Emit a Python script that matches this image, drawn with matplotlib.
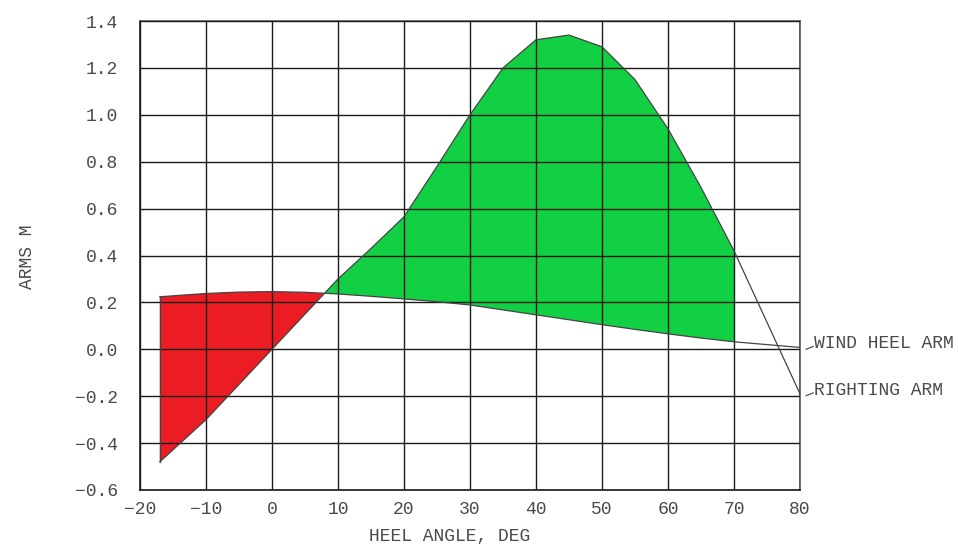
import numpy as np
import matplotlib
matplotlib.use("Agg")
import matplotlib.pyplot as plt

# Stability curves: heel angle (deg) vs arm (m)
heel = [-17, -10, -5, 0, 5, 10, 15, 20, 25, 30, 35, 40, 45, 50, 55, 60, 65, 70, 80]
righting_arm = [-0.48, -0.30, -0.15, 0.0, 0.15, 0.30, 0.43, 0.565, 0.78, 1.0, 1.20,
                1.32, 1.34, 1.29, 1.15, 0.94, 0.69, 0.42, -0.19]
wind_heel_arm = [0.224, 0.238, 0.244, 0.246, 0.243, 0.236, 0.226, 0.215, 0.203, 0.189,
                 0.168, 0.147, 0.126, 0.105, 0.085, 0.066, 0.048, 0.032, 0.008]
x_ticks = [-20, -10, 0, 10, 20, 30, 40, 50, 60, 70, 80]
y_ticks = [-0.6, -0.4, -0.2, 0.0, 0.2, 0.4, 0.6, 0.8, 1.0, 1.2, 1.4]
area_limit = 70
curve_labels = ["WIND HEEL ARM", "RIGHTING ARM"]

plt.rcParams["font.family"] = ["Liberation Mono", "DejaVu Sans Mono"]
text_col = "#4a4a4a"

fig = plt.figure(figsize=(9.58, 5.46), dpi=100)
ax = fig.add_axes([140 / 958, 56 / 546, 660 / 958, 469 / 546])

x = np.array(heel, dtype=float)
ra = np.array(righting_arm)
wha = np.array(wind_heel_arm)

# dense sampling so the filled regions follow the piecewise-linear curves
xf = np.linspace(x[0], area_limit, 2000)
raf = np.interp(xf, x, ra)
whaf = np.interp(xf, x, wha)

ax.fill_between(xf, raf, whaf, where=raf <= whaf, interpolate=True,
                facecolor="#ec1c24", edgecolor="none", zorder=1)
ax.fill_between(xf, raf, whaf, where=raf >= whaf, interpolate=True,
                facecolor="#12d044", edgecolor="none", zorder=1)

# grid
ax.set_xlim(-20, 80)
ax.set_ylim(-0.6, 1.4)
ax.set_xticks(x_ticks)
ax.set_yticks(y_ticks)
ax.grid(True, color="#1a1a1a", linewidth=1.0, zorder=2)
ax.set_axisbelow(False)
for s in ax.spines.values():
    s.set_color("#555555")
    s.set_linewidth(1.2)
ax.spines["left"].set_color("#1a1a1a")
ax.spines["bottom"].set_color("#1a1a1a")

# curve outlines
ax.plot(x, ra, color="#444444", linewidth=0.9, zorder=3)
ax.plot(x, wha, color="#444444", linewidth=0.9, zorder=3)
ax.plot([x[0], x[0]], [ra[0], wha[0]], color="#444444", linewidth=0.9, zorder=3)

ax.tick_params(length=0, labelsize=13, labelcolor=text_col)
ax.tick_params(axis="y", pad=16)
ax.tick_params(axis="x", pad=8)
ax.set_yticklabels([f"{v:.1f}".replace("-", "\u2212") for v in y_ticks])
ax.set_xticklabels([str(v).replace("-", "\u2212") for v in x_ticks])

# curve labels at the right end
for lbl, yv in zip(curve_labels, [wha[-1], ra[-1]]):
    ax.plot([80.9, 82.0], [yv - 0.008, yv + 0.004], color="#555555",
            linewidth=0.9, clip_on=False)
    ax.text(82.1, yv + 0.016, lbl, fontsize=13, color=text_col,
            va="center", ha="left", clip_on=False)

fig.text(28 / 958, 1 - 257 / 546, "ARMS M", rotation=90, fontsize=13,
         color=text_col, ha="center", va="center")
fig.text(450 / 958, 1 - 537 / 546, "HEEL ANGLE, DEG", fontsize=13,
         color=text_col, ha="center", va="center")

fig.savefig("out.png", dpi=100)
